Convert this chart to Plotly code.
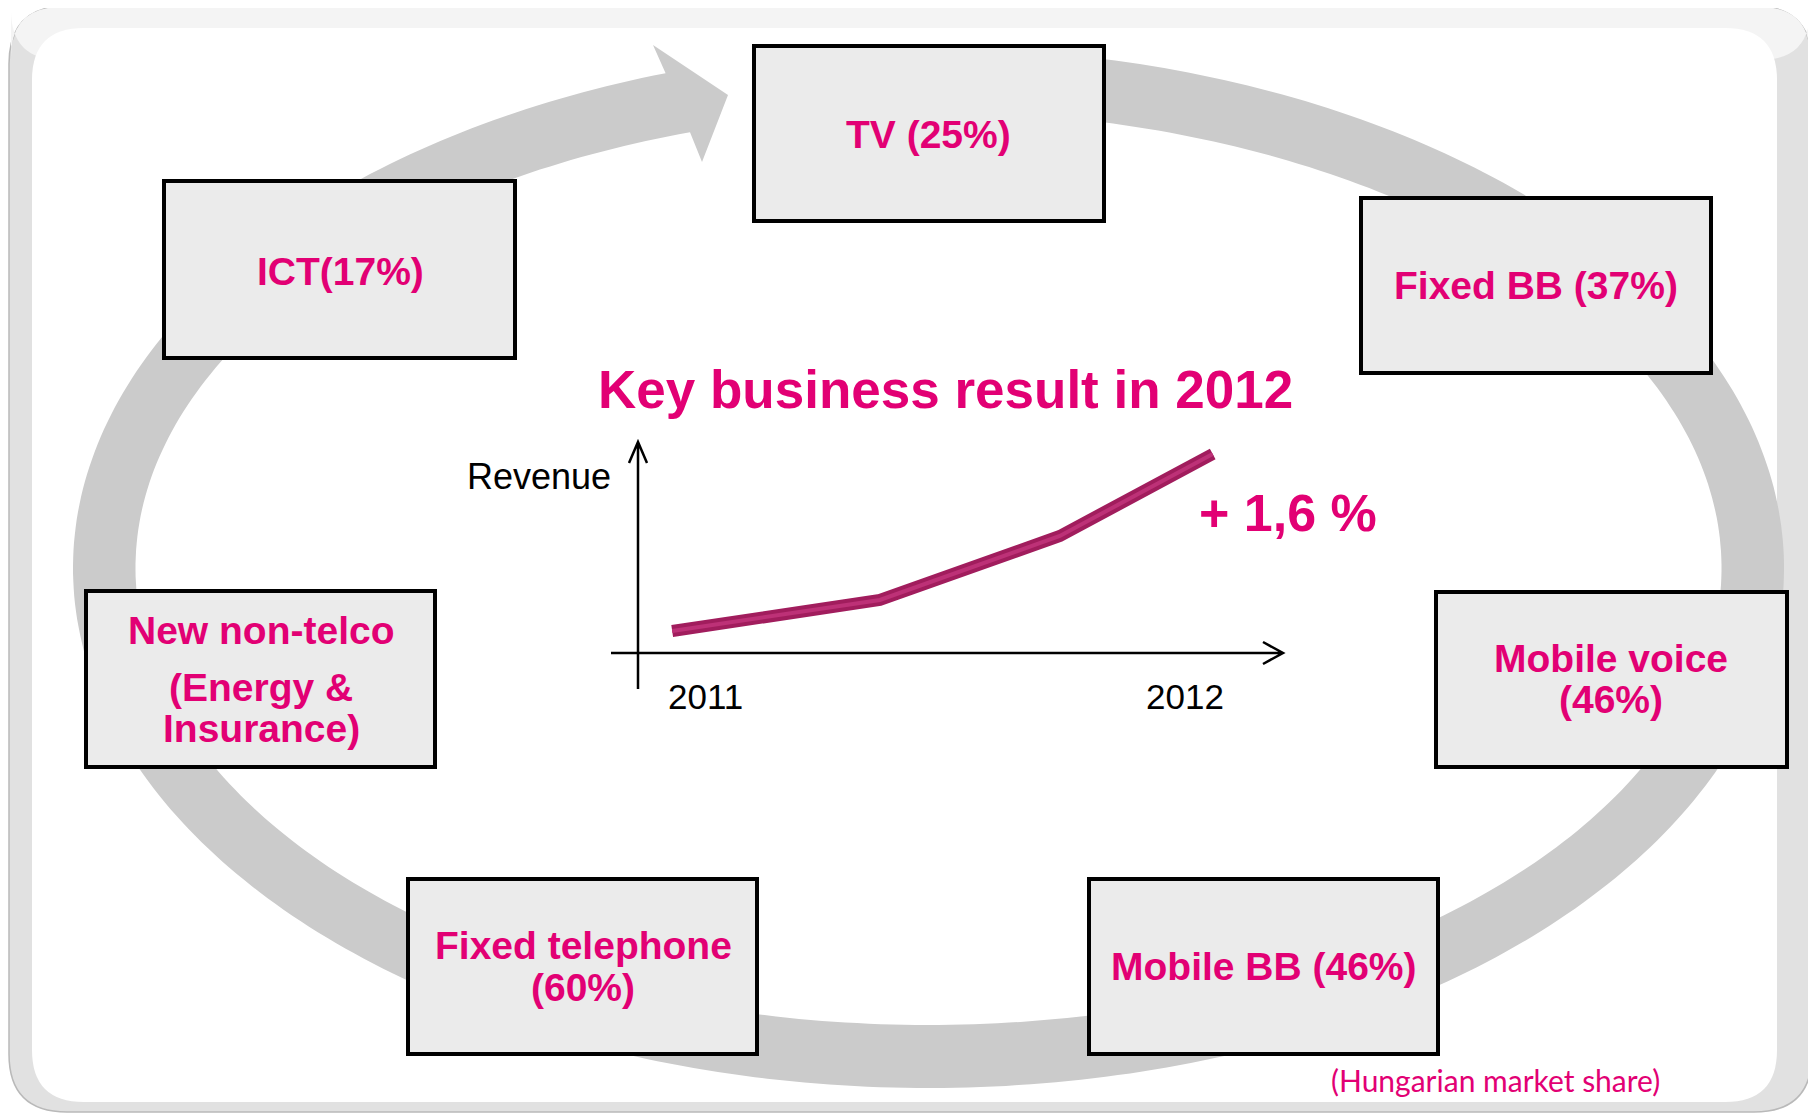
import numpy as np
import plotly.graph_objects as go

# ---------------- data ----------------
segments = ["TV", "ICT", "Fixed BB", "New non-telco", "Mobile voice", "Fixed telephone", "Mobile BB"]
share_labels = [["TV (25%)"], ["ICT(17%)"], ["Fixed BB (37%)"],
                ["New non-telco", "(Energy &", "Insurance)"],
                ["Mobile voice", "(46%)"], ["Fixed telephone", "(60%)"], ["Mobile BB (46%)"]]
period_pos = [0.053, 0.375, 0.654, 0.891]       # position along 2011 -> 2012 axis
revenue_level = [22, 53, 117, 199]              # illustrative revenue curve
year_labels = ["2011", "2012"]
title_text = "Key business result in 2012"
growth_text = "+ 1,6 %"
note_text = "(Hungarian market share)"

# ---------------- layout helpers ----------------
W, H = 1816, 1113
OFF = 8   # page body margin
MAGENTA = "#e20074"
RING = "#cbcbcb"


def rrect(x0, y0, x1, y1, r):
    return (f"M {x0+r},{y0} L {x1-r},{y0} Q {x1},{y0} {x1},{y0+r} L {x1},{y1-r} "
            f"Q {x1},{y1} {x1-r},{y1} L {x0+r},{y1} Q {x0},{y1} {x0},{y1-r} "
            f"L {x0},{y0+r} Q {x0},{y0} {x0+r},{y0} Z")


shapes = []
# frame
shapes.append(dict(type="path", path=rrect(9, 6, 1812, 1112, 58), fillcolor="#e1e1e1",
                   line=dict(color="#b9b9b9", width=1.5), layer="below"))
shapes.append(dict(type="path", path=rrect(11, 7, 1810, 60, 50), fillcolor="#f4f4f4",
                   line=dict(width=0), layer="below"))
shapes.append(dict(type="path", path=rrect(32, 28, 1777, 1102, 52), fillcolor="white",
                   line=dict(width=0), layer="below"))

# ring with arrow head (clockwise from behind TV box to the arrow)
cx, cy = 928.5, 568
ao, bo = 855.5, 520
ai, bi = 793, 457
th_start = np.radians(85)
th_out_end = np.radians(107.9) - 2 * np.pi
th_in_end = np.radians(107.5) - 2 * np.pi
t_out = np.linspace(th_start, th_out_end, 400)
t_in = np.linspace(th_in_end, th_start, 400)
pts = [(cx + ao * np.cos(t), cy - bo * np.sin(t)) for t in t_out]
pts += [(653, 45), (728, 95), (702, 162)]
pts += [(cx + ai * np.cos(t), cy - bi * np.sin(t)) for t in t_in]
ring_path = "M " + " L ".join(f"{x:.1f},{y:.1f}" for x, y in pts) + " Z"
shapes.append(dict(type="path", path=ring_path, fillcolor=RING, line=dict(width=0), layer="below"))

# boxes
boxes = [(754, 46, 1104, 221), (164, 181, 515, 358), (1361, 198, 1711, 373),
         (86, 591, 435, 767), (1436, 592, 1787, 767), (408, 879, 757, 1054),
         (1089, 879, 1438, 1054)]
for (x0, y0, x1, y1) in boxes:
    shapes.append(dict(type="rect", x0=x0, y0=y0, x1=x1, y1=y1, fillcolor="#ebebeb",
                       line=dict(color="black", width=4), layer="below"))

# mini chart axes
shapes.append(dict(type="path", path="M 638,689 L 638,442 M 629,463 L 638,442 L 647,463",
                   line=dict(color="black", width=2.5)))
shapes.append(dict(type="path", path="M 611,653 L 1283,653 M 1263,642 L 1283,653 L 1263,664",
                   line=dict(color="black", width=2.5)))

# label positions (layout)
label_pos = [[(928, 134)], [(340, 271)], [(1536, 285)],
             [(261, 630), (261, 687), (261, 728)],
             [(1611, 658), (1611, 699)], [(583, 945), (583, 987)], [(1264, 966)]]

annotations = []
for lines, poss in zip(share_labels, label_pos):
    for txt, (x, y) in zip(lines, poss):
        annotations.append(dict(x=x, y=y, xref="x", yref="y", text=f"<b>{txt}</b>", showarrow=False,
                                font=dict(family="Liberation Sans, Arial", size=39, color=MAGENTA),
                                xanchor="center", yanchor="middle"))

annotations.append(dict(x=945, y=389, xref="x", yref="y", text=f"<b>{title_text}</b>", showarrow=False,
                        font=dict(family="Liberation Sans, Arial", size=53, color=MAGENTA)))
annotations.append(dict(x=1288, y=513, xref="x", yref="y", text=f"<b>{growth_text}</b>", showarrow=False,
                        font=dict(family="Liberation Sans, Arial", size=52, color=MAGENTA)))
annotations.append(dict(x=539, y=476, xref="x", yref="y", text="Revenue", showarrow=False,
                        font=dict(family="Liberation Sans, Arial", size=36, color="black")))
for txt, x in zip(year_labels, [705, 1185]):
    annotations.append(dict(x=x, y=696, xref="x", yref="y", text=txt, showarrow=False,
                            font=dict(family="Liberation Sans, Arial", size=35, color="black")))
annotations.append(dict(x=1495, y=1080, xref="x", yref="y", text=note_text, showarrow=False,
                        font=dict(family="Lato", size=30, color=MAGENTA)))

fig = go.Figure()
fig.add_trace(go.Scatter(x=period_pos, y=revenue_level, mode="lines", xaxis="x2", yaxis="y2",
                         line=dict(color="#a11d5d", width=12), hoverinfo="skip", showlegend=False))
fig.add_trace(go.Scatter(x=period_pos, y=revenue_level, mode="lines", xaxis="x2", yaxis="y2",
                         line=dict(color="#bd3177", width=4), hoverinfo="skip", showlegend=False))

fig.update_layout(
    width=W, height=H, margin=dict(l=0, r=0, t=0, b=0),
    paper_bgcolor="white", plot_bgcolor="rgba(0,0,0,0)",
    xaxis=dict(range=[OFF, W + OFF], visible=False, fixedrange=True),
    yaxis=dict(range=[H + OFF, OFF], visible=False, fixedrange=True),
    xaxis2=dict(domain=[(638 - OFF) / W, (1283 - OFF) / W], range=[0, 1], visible=False, anchor="y2"),
    yaxis2=dict(domain=[1 - (653 - OFF) / H, 1 - (442 - OFF) / H], range=[0, 211], visible=False, anchor="x2"),
    shapes=shapes, annotations=annotations, showlegend=False,
)

fig.write_html("out.html")
